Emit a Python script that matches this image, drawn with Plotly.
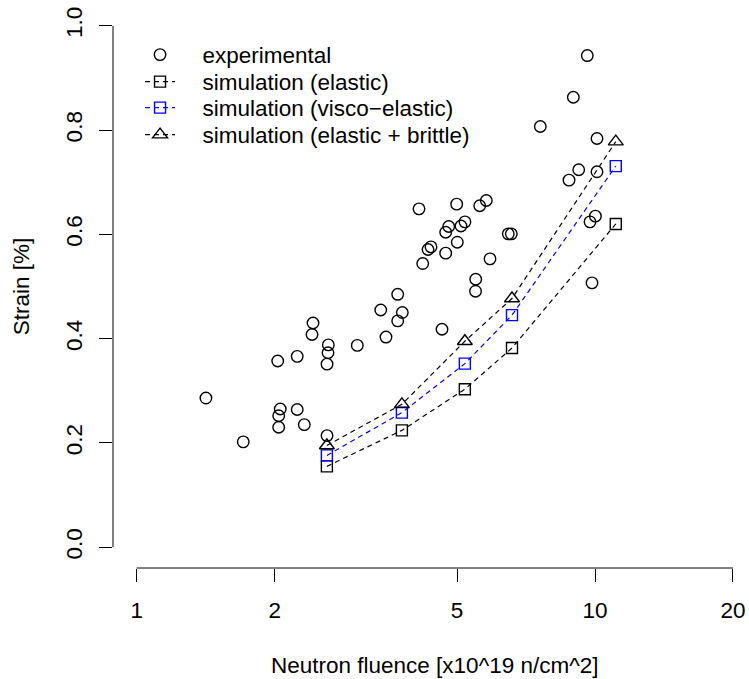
import plotly.graph_objects as go

# Experimental data
exp_x = [1.416, 1.708, 2.031, 2.240, 2.425, 2.413, 2.619, 2.615, 2.602, 2.057,
         2.041, 2.041, 2.240, 2.321, 2.602, 3.029, 3.408, 3.499, 3.711, 3.798,
         3.711, 4.130, 4.208, 4.322, 4.387, 4.636, 4.723, 4.795, 4.723, 4.991,
         5.006, 5.100, 5.203, 5.492, 5.487, 5.603, 5.792, 5.901, 6.468, 6.567,
         7.597, 8.776, 9.214, 8.968, 9.620, 10.10, 10.10, 10.02, 9.752, 9.850]
exp_y = [0.286, 0.202, 0.357, 0.366, 0.430, 0.408, 0.388, 0.373, 0.351, 0.265,
         0.252, 0.230, 0.264, 0.235, 0.214, 0.387, 0.455, 0.403, 0.485, 0.450,
         0.434, 0.649, 0.544, 0.571, 0.576, 0.418, 0.604, 0.615, 0.564, 0.658,
         0.585, 0.616, 0.624, 0.514, 0.491, 0.655, 0.665, 0.553, 0.601, 0.601,
         0.807, 0.704, 0.724, 0.863, 0.943, 0.784, 0.720, 0.635, 0.624, 0.507]

# Simulations
sim_x = [2.60, 3.79, 5.20, 6.59, 11.1]
sim_elastic = [0.155, 0.224, 0.303, 0.382, 0.620]
sim_visco = [0.176, 0.258, 0.352, 0.445, 0.731]
sim_brittle = [0.195, 0.274, 0.395, 0.477, 0.778]

x_ticks = [1, 2, 5, 10, 20]
y_ticks = [0.0, 0.2, 0.4, 0.6, 0.8, 1.0]

legend_labels = ["experimental", "simulation (elastic)",
                 "simulation (visco\u2212elastic)", "simulation (elastic + brittle)"]

FONT = "Liberation Sans, Arial, Helvetica, sans-serif"
FS = 22.5
dash = "5px,4px"
PAD = "\u2002\u2002"

fig = go.Figure()
fig.add_trace(go.Scatter(
    x=exp_x, y=exp_y, mode="markers", name=PAD + legend_labels[0], legend="legend",
    marker=dict(symbol="circle-open", size=11.5, color="black", line=dict(width=1.4)),
    cliponaxis=False))
fig.add_trace(go.Scatter(
    x=sim_x, y=sim_elastic, mode="lines+markers", name=PAD + legend_labels[1],
    legend="legend2",
    line=dict(color="black", width=1.2, dash=dash),
    marker=dict(symbol="square-open", size=11, color="black", line=dict(width=1.4))))
fig.add_trace(go.Scatter(
    x=sim_x, y=sim_visco, mode="lines+markers", name=PAD + legend_labels[2],
    legend="legend3",
    line=dict(color="blue", width=1.2, dash=dash),
    marker=dict(symbol="square-open", size=11, color="blue", line=dict(width=1.4))))
fig.add_trace(go.Scatter(
    x=sim_x, y=sim_brittle, mode="lines+markers", name=PAD + legend_labels[3],
    legend="legend4",
    line=dict(color="black", width=1.2, dash=dash),
    marker=dict(symbol="triangle-up-open", size=13, color="black", line=dict(width=1.4))))

legend_common = dict(x=0.0425, xanchor="left", yanchor="middle",
                     bgcolor="rgba(0,0,0,0)", itemwidth=30,
                     font=dict(family=FONT, size=FS, color="black"))

fig.update_layout(
    width=749, height=679,
    margin=dict(l=113, r=0, t=5, b=111, autoexpand=False),
    paper_bgcolor="white", plot_bgcolor="white",
    font=dict(family=FONT, size=FS, color="black"),
    showlegend=True,
    legend=dict(y=0.9112, **legend_common),
    legend2=dict(y=0.8632, **legend_common),
    legend3=dict(y=0.8171, **legend_common),
    legend4=dict(y=0.7691, **legend_common),
    xaxis=dict(type="log", range=[-0.0517, 1.336], showgrid=False, zeroline=False,
               showline=False, ticks="outside", ticklen=13, tickwidth=1,
               tickcolor="black", tickvals=x_ticks, automargin=False,
               ticktext=[str(v) for v in x_ticks], ticklabelstandoff=9),
    yaxis=dict(range=[-0.04, 1.04], showgrid=False, zeroline=False,
               showline=False, ticks="outside", ticklen=13, tickwidth=1,
               tickcolor="black", tickvals=y_ticks, automargin=False,
               ticktext=[f"{v:.1f}" for v in y_ticks], tickangle=-90,
               ticklabelstandoff=8),
    shapes=[
        dict(type="line", xref="x", yref="paper", x0=x_ticks[0], x1=x_ticks[-1],
             y0=0, y1=0, line=dict(color="black", width=1)),
        dict(type="line", xref="paper", yref="y", x0=0, x1=0,
             y0=y_ticks[0], y1=y_ticks[-1], line=dict(color="black", width=1)),
    ],
    annotations=[
        dict(text="Neutron fluence [x10^19 n/cm^2]", xref="paper", yref="paper",
             x=0.5063, y=-0.174, xanchor="center", yanchor="middle",
             showarrow=False, font=dict(size=FS)),
        dict(text="Strain [%]", xref="paper", yref="paper", x=-0.1433, y=0.5,
             xanchor="center", yanchor="middle", textangle=-90,
             showarrow=False, font=dict(size=FS)),
    ],
)

fig.write_html("out.html", config={"displayModeBar": False},
               post_script="document.body.style.margin='0';"
                           "document.body.style.overflow='hidden';")
